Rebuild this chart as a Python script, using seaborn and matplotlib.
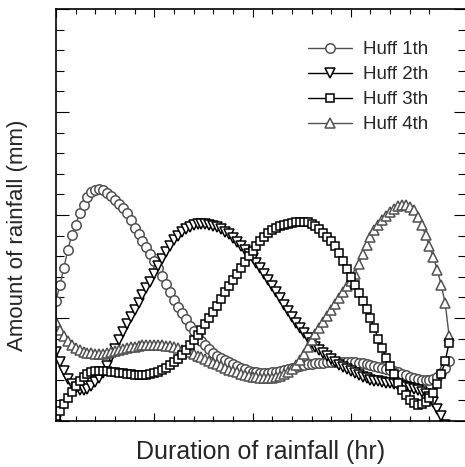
import numpy as np
import pandas as pd
import matplotlib
matplotlib.use('Agg')
import matplotlib.pyplot as plt
import seaborn as sns
from matplotlib.ticker import MultipleLocator, FixedLocator

# time axis (percent of storm duration), 0..100
time_pct = np.arange(0, 101)

huff1 = [5.83, 6.60, 7.43, 8.30, 9.03, 9.51, 10.10, 10.49, 10.87, 11.12,
         11.21, 11.26, 11.21, 11.07, 10.92, 10.73, 10.53, 10.34, 10.10, 9.76,
         9.37, 9.08, 8.74, 8.45, 8.11, 7.77, 7.43, 7.04, 6.65, 6.26,
         5.87, 5.53, 5.24, 4.95, 4.61, 4.37, 4.08, 3.88, 3.69, 3.50,
         3.30, 3.16, 3.06, 2.96, 2.86, 2.77, 2.67, 2.57, 2.52, 2.43,
         2.38, 2.38, 2.33, 2.33, 2.33, 2.38, 2.38, 2.43, 2.48, 2.52,
         2.57, 2.62, 2.67, 2.72, 2.77, 2.77, 2.82, 2.82, 2.82, 2.86,
         2.86, 2.86, 2.86, 2.86, 2.86, 2.86, 2.86, 2.82, 2.82, 2.77,
         2.72, 2.67, 2.62, 2.57, 2.52, 2.48, 2.43, 2.38, 2.28, 2.23,
         2.14, 2.09, 2.04, 1.99, 1.99, 1.99, 2.04, 2.14, 2.33, 2.57,
         2.91]

huff2 = [3.35, 2.86, 2.43, 2.04, 1.80, 1.60, 1.50, 1.50, 1.55, 1.70,
         1.89, 2.09, 2.33, 2.67, 3.11, 3.50, 3.93, 4.32, 4.71, 5.05,
         5.39, 5.73, 6.12, 6.46, 6.75, 7.14, 7.52, 7.86, 8.20, 8.50,
         8.79, 8.98, 9.17, 9.32, 9.42, 9.51, 9.56, 9.56, 9.56, 9.51,
         9.47, 9.42, 9.32, 9.17, 9.08, 8.88, 8.69, 8.50, 8.30, 8.11,
         7.91, 7.67, 7.43, 7.14, 6.84, 6.55, 6.26, 5.97, 5.63, 5.34,
         5.05, 4.76, 4.51, 4.27, 4.03, 3.79, 3.59, 3.45, 3.30, 3.16,
         3.01, 2.86, 2.72, 2.62, 2.52, 2.43, 2.33, 2.23, 2.14, 2.09,
         1.99, 1.94, 1.94, 1.89, 1.84, 1.84, 1.80, 1.75, 1.70, 1.65,
         1.60, 1.55, 1.50, 1.41, 1.31, 1.17, 0.92, 0.58, 0.24, -0.19,
         -0.53]

huff3 = [0.24, 0.49, 0.83, 1.12, 1.41, 1.70, 1.94, 2.14, 2.28, 2.38,
         2.43, 2.43, 2.43, 2.43, 2.38, 2.38, 2.33, 2.33, 2.28, 2.28,
         2.23, 2.23, 2.23, 2.23, 2.28, 2.33, 2.38, 2.48, 2.57, 2.72,
         2.86, 3.01, 3.20, 3.45, 3.69, 3.93, 4.17, 4.42, 4.71, 5.00,
         5.29, 5.58, 5.92, 6.26, 6.55, 6.84, 7.14, 7.43, 7.72, 8.01,
         8.25, 8.50, 8.74, 8.93, 9.13, 9.27, 9.37, 9.47, 9.51, 9.56,
         9.61, 9.66, 9.66, 9.66, 9.66, 9.56, 9.47, 9.32, 9.13, 8.93,
         8.74, 8.50, 8.16, 7.77, 7.38, 6.99, 6.60, 6.21, 5.83, 5.44,
         5.00, 4.51, 3.98, 3.54, 3.06, 2.67, 2.28, 1.84, 1.50, 1.26,
         1.02, 0.87, 0.78, 0.83, 0.92, 1.12, 1.36, 1.80, 2.28, 2.91,
         3.79]

huff4 = [4.81, 4.42, 4.13, 3.88, 3.69, 3.54, 3.45, 3.35, 3.30, 3.30,
         3.25, 3.25, 3.25, 3.30, 3.35, 3.40, 3.45, 3.50, 3.54, 3.59,
         3.59, 3.64, 3.69, 3.69, 3.69, 3.69, 3.69, 3.69, 3.64, 3.64,
         3.59, 3.54, 3.45, 3.40, 3.35, 3.25, 3.16, 3.11, 3.01, 2.91,
         2.82, 2.77, 2.67, 2.57, 2.48, 2.43, 2.38, 2.28, 2.23, 2.18,
         2.14, 2.14, 2.09, 2.09, 2.09, 2.09, 2.14, 2.18, 2.28, 2.38,
         2.52, 2.72, 2.96, 3.25, 3.59, 3.93, 4.22, 4.51, 4.81, 5.10,
         5.39, 5.68, 5.97, 6.26, 6.55, 6.80, 7.14, 7.62, 8.11, 8.54,
         8.93, 9.27, 9.51, 9.76, 9.95, 10.15, 10.29, 10.44, 10.49, 10.49,
         10.39, 10.24, 9.90, 9.51, 9.03, 8.50, 7.96, 7.33, 6.60, 5.73,
         4.13]

series_names = ['Huff 1th', 'Huff 2th', 'Huff 3th', 'Huff 4th']
series_values = [huff1, huff2, huff3, huff4]
series_colors = ['#505050', '#000000', '#000000', '#505050']
series_markers = ['o', 'v', 's', '^']
marker_sizes = [6.8, 7.2, 6.0, 7.2]
z_orders = [2.1, 2.2, 2.4, 2.3]

# long table, each curve starts from the origin
frames = []
for name, vals in zip(series_names, series_values):
    frames.append(pd.DataFrame({'t': np.r_[0, time_pct],
                                'amount': np.r_[0.0, vals],
                                'series': name}))
df = pd.concat(frames, ignore_index=True)

sns.set_style('ticks')
plt.rcParams['font.family'] = ['Liberation Sans', 'DejaVu Sans']

fig = plt.figure(figsize=(4.65, 4.67), dpi=100)
ax = fig.add_axes([56 / 465, 46 / 467, 410 / 465, 412 / 467])

for name, col, mk, ms, zo in zip(series_names, series_colors, series_markers,
                                 marker_sizes, z_orders):
    sub = df[df['series'] == name]
    sns.lineplot(data=sub, x='t', y='amount', ax=ax, estimator=None, sort=False,
                 color=col, marker=mk, markersize=ms, markerfacecolor='white',
                 markeredgecolor=col, markeredgewidth=1.1, linewidth=1.0,
                 label=name, zorder=zo)

ax.set_xlim(0, 104.3)
ax.set_ylim(0, 20)
ax.xaxis.set_major_locator(FixedLocator([0, 25, 50, 75]))
ax.xaxis.set_minor_locator(FixedLocator([v for v in range(5, 100, 5) if v % 25]))
ax.yaxis.set_major_locator(MultipleLocator(5))
ax.yaxis.set_minor_locator(MultipleLocator(1))
ax.tick_params(axis='both', which='both', direction='in', top=True, right=True,
               labelbottom=False, labelleft=False, width=0.8, color='black')
ax.tick_params(axis='y', which='major', length=9)
ax.tick_params(axis='y', which='minor', length=5.5)
ax.tick_params(axis='x', which='major', length=6)
ax.tick_params(axis='x', which='minor', length=3.5)
for sp in ax.spines.values():
    sp.set_linewidth(1.2)
    sp.set_color('black')

ax.set_xlabel('Duration of rainfall (hr)', fontsize=18, labelpad=14)
ax.set_ylabel('Amount of rainfall (mm)', fontsize=16)
ax.yaxis.set_label_coords(-0.068, 0.45)

ax.legend(loc='upper left', bbox_to_anchor=(0.615, 0.922), frameon=False,
          fontsize=13.5, handlelength=2.35, handletextpad=0.55,
          labelspacing=0.42, borderpad=0, borderaxespad=0)

fig.savefig('out.png', dpi=100)
